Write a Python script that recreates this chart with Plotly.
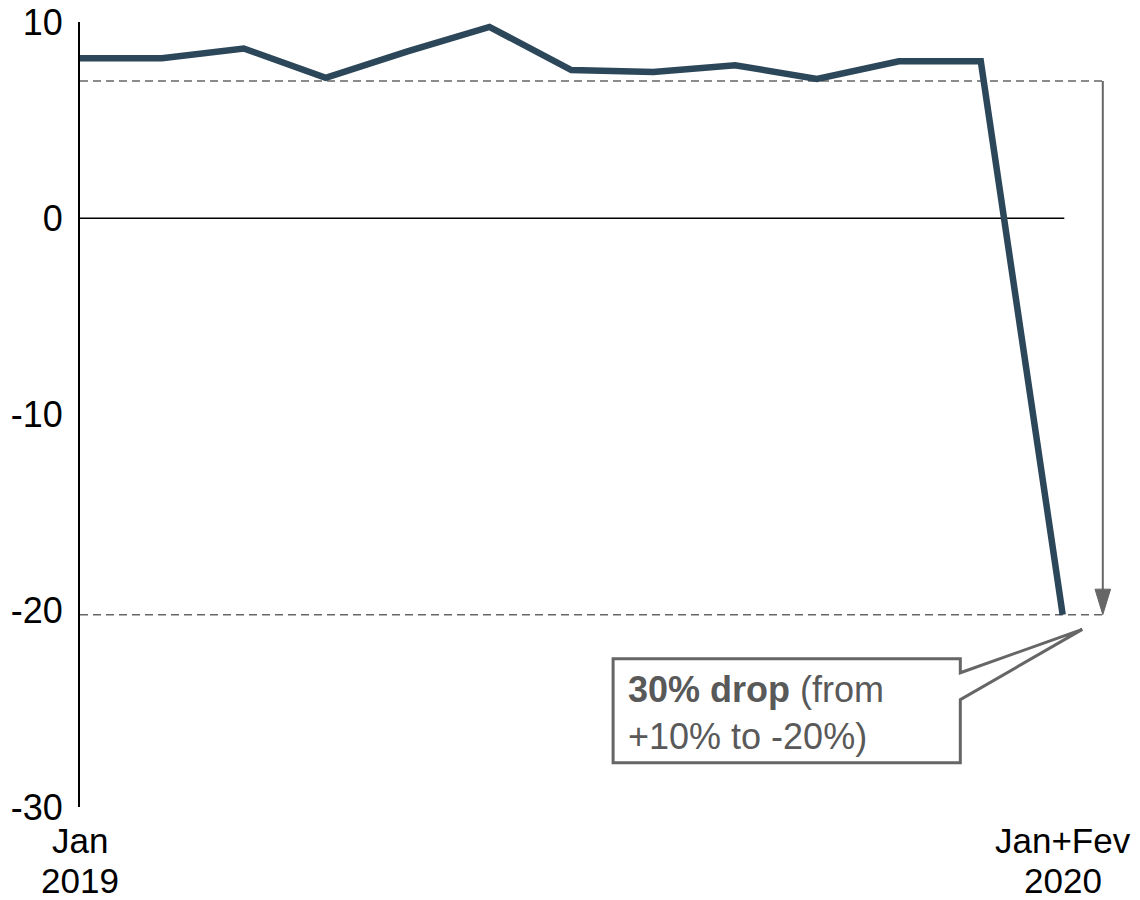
import plotly.graph_objects as go

# Monthly series, Jan 2019 .. Jan+Fev 2020
months = ["Jan", "Fev", "Mar", "Abr", "Mai", "Jun", "Jul", "Ago", "Set", "Out", "Nov", "Dez", "Jan+Fev"]
years = ["2019"] * 12 + ["2020"]
values = [8.15, 8.15, 8.65, 7.15, 8.5, 9.75, 7.55, 7.45, 7.8, 7.1, 8.0, 8.0, -20.2]

# Reference levels for the drop
ref_high = 7.0
ref_low = -20.2

y_ticks = [10, 0, -10, -20, -30]
shown_ticks = [0, len(months) - 1]

FONT = "Liberation Sans, Arial, sans-serif"
GREY = "#666666"
TEXT_GREY = "#595959"
LINE = "#2c4759"

W, H = 1140, 900
M_L, M_R, M_T, M_B = 80, 20, 22, 93
x_range = [0, 12.7]
y_range = [-30, 10]

x = list(range(len(months)))

fig = go.Figure()
fig.add_trace(go.Scatter(
    x=x, y=values, mode="lines",
    line=dict(color=LINE, width=6.5),
    hoverinfo="skip", showlegend=False,
))

x_last = x[-1]
x_ref_end = 12.51
x_arrow = 12.49

shapes = [
    # zero line
    dict(type="line", xref="x", yref="y", x0=0, x1=x_last + 0.02, y0=0, y1=0,
         line=dict(color="black", width=1.5), layer="below"),
    # dashed reference levels
    dict(type="line", xref="x", yref="y", x0=0, x1=x_ref_end, y0=ref_high, y1=ref_high,
         line=dict(color=GREY, width=1.5, dash="8px,5px"), layer="below"),
    dict(type="line", xref="x", yref="y", x0=0, x1=x_ref_end, y0=ref_low, y1=ref_low,
         line=dict(color=GREY, width=1.5, dash="8px,5px"), layer="below"),
    # arrow shaft
    dict(type="line", xref="x", yref="y", x0=x_arrow, x1=x_arrow, y0=ref_high, y1=ref_low + 1.2,
         line=dict(color=GREY, width=2)),
    # arrow head
    dict(type="path", xref="x", yref="y",
         path=f"M {x_arrow - 0.095},{ref_low + 1.3} L {x_arrow + 0.095},{ref_low + 1.3} L {x_arrow},{ref_low} Z",
         fillcolor=GREY, line=dict(color=GREY, width=1)),
    # callout box with pointer
    dict(type="path", xref="x", yref="y",
         path=("M 6.51,-22.45 L 10.75,-22.45 L 10.75,-23.16 L 12.24,-20.95 "
               "L 10.75,-24.53 L 10.75,-27.74 L 6.51,-27.74 Z"),
         fillcolor="white", line=dict(color=GREY, width=3)),
]

annotations = [
    dict(xref="x", yref="y", x=6.67, y=-25.2, xanchor="left", yanchor="middle",
         text="<b>30% drop</b> (from<br>+10% to -20%)", showarrow=False, align="left",
         font=dict(family=FONT, size=36, color=TEXT_GREY)),
]

# two-line category labels under the first and last points
for i in shown_ticks:
    annotations.append(dict(xref="x", yref="paper", x=x[i], y=-0.0170, xanchor="center", yanchor="top",
                            text=months[i], showarrow=False, borderpad=0,
                            font=dict(family=FONT, size=35, color="black")))
    annotations.append(dict(xref="x", yref="paper", x=x[i], y=-0.0675, xanchor="center", yanchor="top",
                            text=years[i], showarrow=False, borderpad=0,
                            font=dict(family=FONT, size=35, color="black")))

fig.update_layout(
    width=W, height=H,
    margin=dict(l=M_L, r=M_R, t=M_T, b=M_B, autoexpand=False),
    paper_bgcolor="white", plot_bgcolor="white",
    font=dict(family=FONT, size=36, color="black"),
    shapes=shapes, annotations=annotations,
    xaxis=dict(range=x_range, visible=False, showgrid=False, zeroline=False, fixedrange=True,
               automargin=False),
    yaxis=dict(range=y_range, tickvals=y_ticks, ticktext=[str(v) for v in y_ticks],
               showgrid=False, zeroline=False, showline=True, linecolor="black", linewidth=2,
               ticks="", ticklabelstandoff=8, tickfont=dict(family=FONT, size=36, color="black"),
               fixedrange=True, automargin=False),
)

fig.write_html("out.html")
